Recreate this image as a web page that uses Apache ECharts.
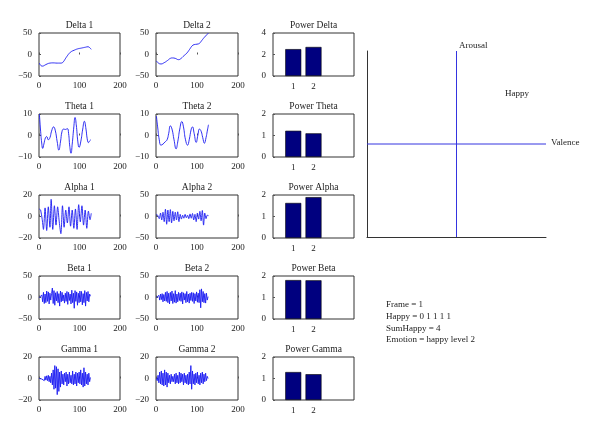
<!DOCTYPE html>
<html><head><meta charset="utf-8">
<script src="https://cdn.jsdelivr.net/npm/echarts@6/dist/echarts.min.js"></script>
<style>html,body{margin:0;padding:0;background:#fff}#c{width:600px;height:437px}</style>
</head><body><div id="c"></div>
<script>
// ---------- data ----------
const bandNames = ['Delta', 'Theta', 'Alpha', 'Beta', 'Gamma'];
const yLimit1 = [50, 10, 20, 50, 20];
const yLimit2 = [50, 10, 50, 50, 20];
const timeTicks = [0, 100, 200];
const barLabels = [1, 2];
const powerMax = [4, 2, 2, 2, 2];
const powerStep = [2, 1, 1, 1, 1];

const powerDelta = [2.5, 2.7];
const powerTheta = [1.22, 1.1];
const powerAlpha = [1.63, 1.9];
const powerBeta = [1.81, 1.8];
const powerGamma = [1.3, 1.2];

const delta1 = [[1,-20],[5,-26],[9,-27],[14,-25],[20,-22],[27,-20],[35,-19.5],[45,-20],[55,-20],[60,-17],[65,-10],[70,-3],[75,3],[80,7],[87,10],[95,13],[105,15],[115,17],[121,18],[125,16],[129,12]];
const delta2 = [[1,-15],[6,-20],[12,-22],[20,-19],[28,-14],[35,-9],[40,-8],[47,-9],[55,-12],[60,-10],[68,-3],[75,3],[82,12],[88,20],[93,23],[100,24],[106,26],[112,33],[118,40],[124,46],[128,50]];
const theta1 = [[1,10],[4,2],[7,-4],[9,-6],[12,-4],[16,-1],[19,-0.5],[23,-2],[27,-1],[31,2],[36,4],[40,2.5],[45,-3],[49,-6.8],[53,-3],[57,2],[61,3],[65,2.8],[70,3.2],[73,1],[76,-5],[79,-8.3],[82,-4],[86,4],[89,8.4],[92,5],[96,-3],[99,-5.5],[103,-3],[108,3],[112,6.6],[116,3],[119,-1.5],[122,-3.3],[125,-2.5],[128,-2]];
const theta2 = [[1,9],[4,4],[8,-2],[12,-4.5],[17,-4],[22,-3],[27,-2],[31,1],[35,4.5],[39,3],[44,-2],[49,-6.2],[53,-3],[58,3],[63,6.5],[67,4],[72,-2],[77,-4.5],[81,-2],[86,3],[89,4],[93,1],[98,-3.2],[102,0],[106,3],[110,2],[114,-1],[118,-3.6],[122,-1],[125,2],[128,5]];
const alpha1 = [[1,7],[4,6],[8,-3],[11,-12],[15,8],[19,-13],[23,9],[27,-10],[30,16],[34,-12],[38,10],[42,-8],[46,9],[50,-5],[54,-16],[58,10],[62,-10],[66,6],[70,-6],[74,9],[78,-9],[82,6],[86,-11],[90,7],[94,-12],[98,11],[102,-5],[106,10],[110,-8],[114,6],[118,-11],[122,5],[126,-3],[129,3]];
const alpha2 = [[1,5],[4,3],[8,-5],[11,8],[14,-8],[17,10],[20,-12],[23,17],[26,-18],[29,15],[32,-12],[35,16],[38,-15],[41,12],[44,-10],[47,10],[50,-8],[53,11],[56,-12],[59,5],[62,-6],[65,3],[68,-4],[71,5],[74,-3],[77,3],[80,-5],[83,6],[86,-4],[89,7],[92,-8],[95,5],[98,-12],[101,8],[104,-6],[107,12],[110,-10],[113,14],[116,-20],[119,8],[122,-5],[125,3],[128,2]];
const sampleT = [1,3,5,7,9,11,13,15,17,19,21,23,25,27,29,31,33,35,37,39,41,43,45,47,49,51,53,55,57,59,61,63,65,67,69,71,73,75,77,79,81,83,85,87,89,91,93,95,97,99,101,103,105,107,109,111,113,115,117,119,121,123,125,127];
const beta1 = [0,1,-2,6,-10,12,-14,8,-12,15,-9,13,-15,10,-6,9,22,-14,16,-18,11,-8,14,-12,9,-20,15,-10,12,-8,6,-13,10,-9,14,-16,12,-7,8,-15,17,-12,10,-25,16,-9,13,-18,10,-12,15,-10,14,-17,9,-12,16,-20,12,-8,14,-10,8,3];
const beta2 = [0,1,-3,5,-6,8,-5,9,-10,7,-8,12,-9,14,-12,10,-15,12,-8,15,-14,9,-11,16,-13,8,-10,12,-7,10,-9,13,-15,11,-6,9,-12,14,-10,8,-13,10,-7,12,-9,11,-14,9,-8,13,-11,10,-12,18,-24,20,-10,14,-12,9,-13,10,-6,2];
const gamma1 = [0,0,0.5,-0.5,1,0,-2,2,-1.5,2.5,-2,3,-3,2,-4,5,-6,8,-10,12,-9,11,-15,9,-12,6,-8,7,-5,4,-6,5,-3,6,-7,4,-5,6,-4,3,-5,7,-6,4,-5,6,-7,5,-4,6,-5,8,-6,5,-8,10,-7,6,-5,4,-6,5,-3,1];
const gamma2 = [0,-2,3,-4,6,-5,7,-6,5,-7,8,-6,6,-8,5,-4,3,-5,4,-3,2,-3,4,-5,5,-4,3,-5,6,-4,5,-3,4,-6,5,-4,3,-5,4,-6,6,-5,12,-10,7,-5,4,-6,5,-4,6,-5,3,-6,5,-4,6,-5,4,-3,5,-2,2,0];

const arousalLine = [[0,-1],[0,1]];
const valenceLine = [[-1,0],[1,0]];
const infoLines = ['Frame = 1', 'Happy = 0 1 1 1 1', 'SumHappy = 4', 'Emotion = happy level 2'];

// ---------- layout ----------
const FONT = 'Liberation Serif';
const colLeft = [39, 156, 273];
const colWidth = [81, 82, 81];
const rowTop = [33, 114, 195, 276, 357];
const rowH = 43;
const pair = (xs, ys) => xs.map((x, i) => [x, ys[i]]);
const ch1 = [delta1, theta1, alpha1, pair(sampleT, beta1), pair(sampleT, gamma1)];
const ch2 = [delta2, theta2, alpha2, pair(sampleT, beta2), pair(sampleT, gamma2)];
const smoothBand = [true, true, 0.3, false, false];
const powers = [powerDelta, powerTheta, powerAlpha, powerBeta, powerGamma];
const minus = v => String(v).replace('-', '\u2212');

const grids = [], xAxes = [], yAxes = [], series = [], graphics = [];
const lblStyle = { fontFamily: FONT, fontSize: 9, color: '#222' };
function title(text, cx, cy) {
  graphics.push({ type: 'text', x: cx, y: cy, style: { text, fontFamily: FONT, fontSize: 9.5, fill: '#222', textAlign: 'center', textVerticalAlign: 'middle' } });
}
for (let r = 0; r < 5; r++) {
  for (let c = 0; c < 3; c++) {
    const gi = grids.length;
    grids.push({ left: colLeft[c], top: rowTop[r], width: colWidth[c], height: rowH, show: true, borderColor: '#333', borderWidth: 1, backgroundColor: 'transparent' });
    const tick = { show: true, inside: true, length: 2, lineStyle: { color: '#555' } };
    if (c < 2) {
      const L = c === 0 ? yLimit1[r] : yLimit2[r];
      xAxes.push({ gridIndex: gi, type: 'value', min: timeTicks[0], max: timeTicks[2], interval: timeTicks[1] - timeTicks[0], axisLine: { show: false }, axisTick: tick, splitLine: { show: false }, axisLabel: Object.assign({ margin: 5 }, lblStyle) });
      yAxes.push({ gridIndex: gi, type: 'value', min: -L, max: L, interval: L, axisLine: { show: false }, axisTick: tick, splitLine: { show: false }, axisLabel: Object.assign({ margin: 7, formatter: minus }, lblStyle) });
      const d = c === 0 ? ch1[r] : ch2[r];
      series.push({ type: 'line', xAxisIndex: gi, yAxisIndex: gi, data: d, showSymbol: false, smooth: smoothBand[r], clip: true, lineStyle: { color: '#1a1af2', width: 0.9 }, animation: false });
      title(bandNames[r] + ' ' + (c + 1), colLeft[c] + colWidth[c] / 2, rowTop[r] - 8);
    } else {
      xAxes.push({ gridIndex: gi, type: 'value', min: 0, max: 4, interval: 1, axisLine: { show: false }, axisTick: { show: false }, splitLine: { show: false }, axisLabel: Object.assign({ margin: 6, formatter: v => barLabels.includes(v) ? String(v) : '' }, lblStyle) });
      yAxes.push({ gridIndex: gi, type: 'value', min: 0, max: powerMax[r], interval: powerStep[r], axisLine: { show: false }, axisTick: tick, splitLine: { show: false }, axisLabel: Object.assign({ margin: 7 }, lblStyle) });
      series.push({ type: 'bar', xAxisIndex: gi, yAxisIndex: gi, data: barLabels.map((b, i) => [b, powers[r][i]]), barWidth: 16, itemStyle: { color: '#00007f', borderColor: '#000', borderWidth: 0.6 }, animation: false });
      title('Power ' + bandNames[r], colLeft[c] + colWidth[c] / 2, rowTop[r] - 8);
    }
  }
}
// emotion plane
const eg = grids.length;
grids.push({ left: 367, top: 51, width: 179, height: 186 });
const eAxis = { type: 'value', min: -1, max: 1, axisLine: { show: true, onZero: false, lineStyle: { color: '#333', width: 1 } }, axisTick: { show: false }, axisLabel: { show: false }, splitLine: { show: false } };
xAxes.push(Object.assign({ gridIndex: eg }, eAxis));
yAxes.push(Object.assign({ gridIndex: eg }, eAxis));
[arousalLine, valenceLine].forEach(d => series.push({ type: 'line', xAxisIndex: eg, yAxisIndex: eg, data: d, showSymbol: false, lineStyle: { color: '#3434e0', width: 1 }, animation: false }));
graphics.push({ type: 'text', x: 459, y: 46, style: { text: 'Arousal', fontFamily: FONT, fontSize: 9, fill: '#222', textVerticalAlign: 'middle' } });
graphics.push({ type: 'text', x: 551, y: 143, style: { text: 'Valence', fontFamily: FONT, fontSize: 9, fill: '#222', textVerticalAlign: 'middle' } });
graphics.push({ type: 'text', x: 505, y: 94, style: { text: 'Happy', fontFamily: FONT, fontSize: 9, fill: '#222', textVerticalAlign: 'middle' } });
infoLines.forEach((t, i) => graphics.push({ type: 'text', x: 386, y: 305 + i * 11.7, style: { text: t, fontFamily: FONT, fontSize: 9, fill: '#222', textVerticalAlign: 'middle' } }));

const chart = echarts.init(document.getElementById('c'), null, { renderer: 'canvas' });
chart.setOption({ animation: false, backgroundColor: '#fff', grid: grids, xAxis: xAxes, yAxis: yAxes, series, graphic: graphics });
</script></body></html>
